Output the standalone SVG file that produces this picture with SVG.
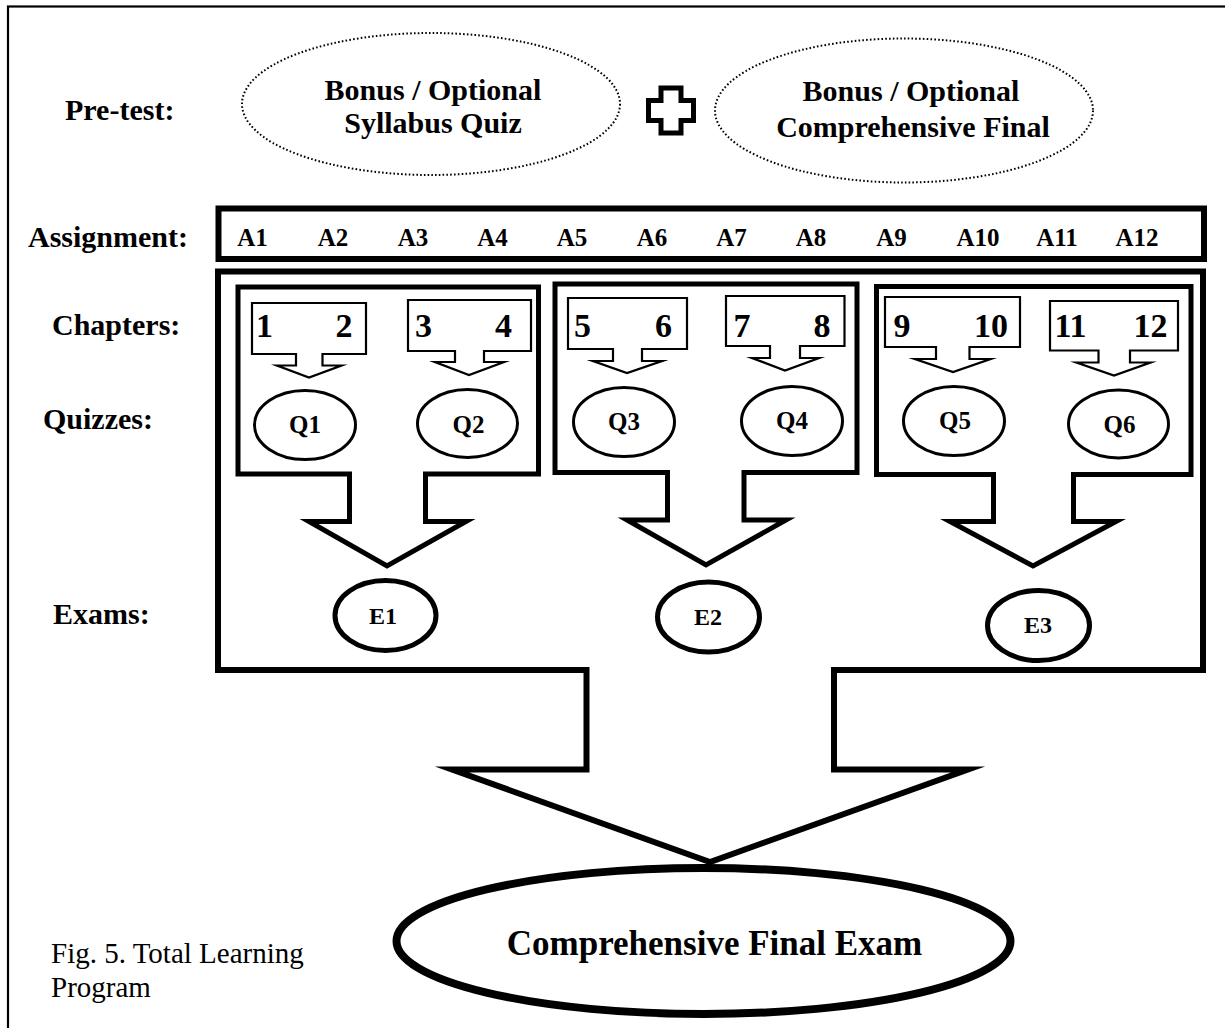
<svg xmlns="http://www.w3.org/2000/svg" width="1225" height="1028" viewBox="0 0 1225 1028">
<style>
text{font-family:"Liberation Serif","Times New Roman",serif;font-weight:bold;fill:#000}
.lbl{font-size:30px}
.pre{font-size:30px;text-anchor:middle}
.a{font-size:25px;text-anchor:middle}
.d{font-size:34px;text-anchor:middle}
.q{font-size:25px;text-anchor:middle}
.e{font-size:24px;text-anchor:middle}
.fin{font-size:35px;text-anchor:middle}
.cap{font-size:29px;font-weight:normal}
.dot{fill:none;stroke:#000;stroke-width:2;stroke-dasharray:1.6 2.2}
.thick{fill:#fff;stroke:#000;stroke-linejoin:miter;stroke-miterlimit:20}
.chap{fill:#fff;stroke:#000;stroke-width:2.2;stroke-miterlimit:20}
.qe{fill:#fff;stroke:#000;stroke-width:3}
.ee{fill:#fff;stroke:#000;stroke-width:5}
</style>
<rect width="1225" height="1028" fill="#fff"/>
<rect x="8" y="6.5" width="1240" height="1040" fill="none" stroke="#000" stroke-width="2.2"/>

<g id="labels">
<text class="lbl" x="65" y="120">Pre-test:</text>
<text class="lbl" x="28" y="247">Assignment:</text>
<text class="lbl" x="52" y="335">Chapters:</text>
<text class="lbl" x="43" y="429">Quizzes:</text>
<text class="lbl" x="53" y="624">Exams:</text>
</g>

<g id="connectors">
<polygon id="final-arrow" class="thick" stroke-width="6" points="218,271.5 1203,271.5 1203,670 834,670 834,769.5 968,769.5 710,862 452,769.5 586.5,769.5 586.5,670 218,670"/>
<polygon id="group1-arrow" class="thick" stroke-width="5" points="238,287 538.5,287 538.5,474 425.5,474 425.5,521.5 466,521.5 387,566 309,521.5 349.5,521.5 349.5,474 238,474"/>
<polygon id="group2-arrow" class="thick" stroke-width="5" points="555,284 857,284 857,472.5 744,472.5 744,520 786,520 706,565 627,520 667.5,520 667.5,472.5 555,472.5"/>
<polygon id="group3-arrow" class="thick" stroke-width="5" points="876.5,286.5 1191,286.5 1191,474.5 1073.5,474.5 1073.5,521.5 1116,521.5 1033,566 950,521.5 993.5,521.5 993.5,474.5 876.5,474.5"/>
</g>

<g id="pretest-syllabus">
<ellipse class="dot" cx="431" cy="104" rx="189" ry="71"/>
<text class="pre" x="433" y="100">Bonus / Optional</text>
<text class="pre" x="433" y="133">Syllabus Quiz</text>
</g>
<g id="plus">
<polygon fill="#fff" stroke="#000" stroke-width="5" points="661,88 681,88 681,100.5 693.5,100.5 693.5,120.5 681,120.5 681,133 661,133 661,120.5 648.5,120.5 648.5,100.5 661,100.5"/>
</g>
<g id="pretest-final">
<ellipse class="dot" cx="904" cy="110.5" rx="189" ry="72"/>
<text class="pre" x="911" y="101">Bonus / Optional</text>
<text class="pre" x="913" y="137">Comprehensive Final</text>
</g>

<g id="assignments">
<rect x="218.5" y="208.5" width="985.5" height="50.5" fill="#fff" stroke="#000" stroke-width="6"/>
<text class="a" x="252.5" y="246">A1</text>
<text class="a" x="333" y="246">A2</text>
<text class="a" x="413" y="246">A3</text>
<text class="a" x="492.5" y="246">A4</text>
<text class="a" x="572" y="246">A5</text>
<text class="a" x="652" y="246">A6</text>
<text class="a" x="731.5" y="246">A7</text>
<text class="a" x="811" y="246">A8</text>
<text class="a" x="891.5" y="246">A9</text>
<text class="a" x="978" y="246">A10</text>
<text class="a" x="1057" y="246">A11</text>
<text class="a" x="1137" y="246">A12</text>
</g>

<g id="ch1-2">
<polygon class="chap" points="252,303 366,303 366,354 322.5,354 322.5,365.5 341.5,365.5 309,377.5 277,365.5 296,365.5 296,354 252,354"/>
<text class="d" x="264.5" y="337">1</text><text class="d" x="344" y="337">2</text>
</g>
<g id="ch3-4">
<polygon class="chap" points="408,300 531,300 531,351 484,351 484,362 504,362 469,375 435,362 455,362 455,351 408,351"/>
<text class="d" x="423.5" y="337">3</text><text class="d" x="503.5" y="337">4</text>
</g>
<g id="ch5-6">
<polygon class="chap" points="568,298 687,298 687,349 642,349 642,361 662,361 627,373 593,361 613,361 613,349 568,349"/>
<text class="d" x="582.5" y="337">5</text><text class="d" x="663.5" y="337">6</text>
</g>
<g id="ch7-8">
<polygon class="chap" points="726,296 844.5,296 844.5,346 800,346 800,358 819,358 785,370.5 752,358 770,358 770,346 726,346"/>
<text class="d" x="742" y="337">7</text><text class="d" x="822" y="337">8</text>
</g>
<g id="ch9-10">
<polygon class="chap" points="885,297 1020,297 1020,347 969.5,347 969.5,359 990.5,359 953,372 915,359 936,359 936,347 885,347"/>
<text class="d" x="902" y="337">9</text><text class="d" x="991" y="337">10</text>
</g>
<g id="ch11-12">
<polygon class="chap" points="1050,301 1178,301 1178,350.5 1130,350.5 1130,362.5 1150.5,362.5 1114,375.5 1076.5,362.5 1098.5,362.5 1098.5,350.5 1050,350.5"/>
<text class="d" x="1070.5" y="337">11</text><text class="d" x="1150.5" y="337">12</text>
</g>

<g id="q1"><ellipse class="qe" cx="305" cy="425" rx="50.5" ry="34.5"/><text class="q" x="305" y="433">Q1</text></g>
<g id="q2"><ellipse class="qe" cx="467.5" cy="423.5" rx="50" ry="34"/><text class="q" x="468.5" y="432.5">Q2</text></g>
<g id="q3"><ellipse class="qe" cx="624" cy="422" rx="50.5" ry="34.5"/><text class="q" x="624" y="430">Q3</text></g>
<g id="q4"><ellipse class="qe" cx="792" cy="421" rx="50.5" ry="34.5"/><text class="q" x="792" y="429">Q4</text></g>
<g id="q5"><ellipse class="qe" cx="954" cy="421" rx="50.5" ry="34.5"/><text class="q" x="955" y="429">Q5</text></g>
<g id="q6"><ellipse class="qe" cx="1118.5" cy="424" rx="50" ry="34"/><text class="q" x="1119.5" y="432.5">Q6</text></g>

<g id="e1"><ellipse class="ee" cx="385.5" cy="615.5" rx="50.5" ry="35"/><text class="e" x="383" y="624">E1</text></g>
<g id="e2"><ellipse class="ee" cx="708.5" cy="617" rx="51" ry="35"/><text class="e" x="708" y="625">E2</text></g>
<g id="e3"><ellipse class="ee" cx="1038.5" cy="625.5" rx="51" ry="35"/><text class="e" x="1038" y="633">E3</text></g>

<g id="final-exam">
<ellipse cx="703.5" cy="941" rx="307" ry="73" fill="#fff" stroke="#000" stroke-width="8"/>
<text class="fin" x="714.5" y="955">Comprehensive Final Exam</text>
</g>

<g id="caption">
<text class="cap" x="51" y="963">Fig. 5. Total Learning</text>
<text class="cap" x="51" y="997">Program</text>
</g>
</svg>
